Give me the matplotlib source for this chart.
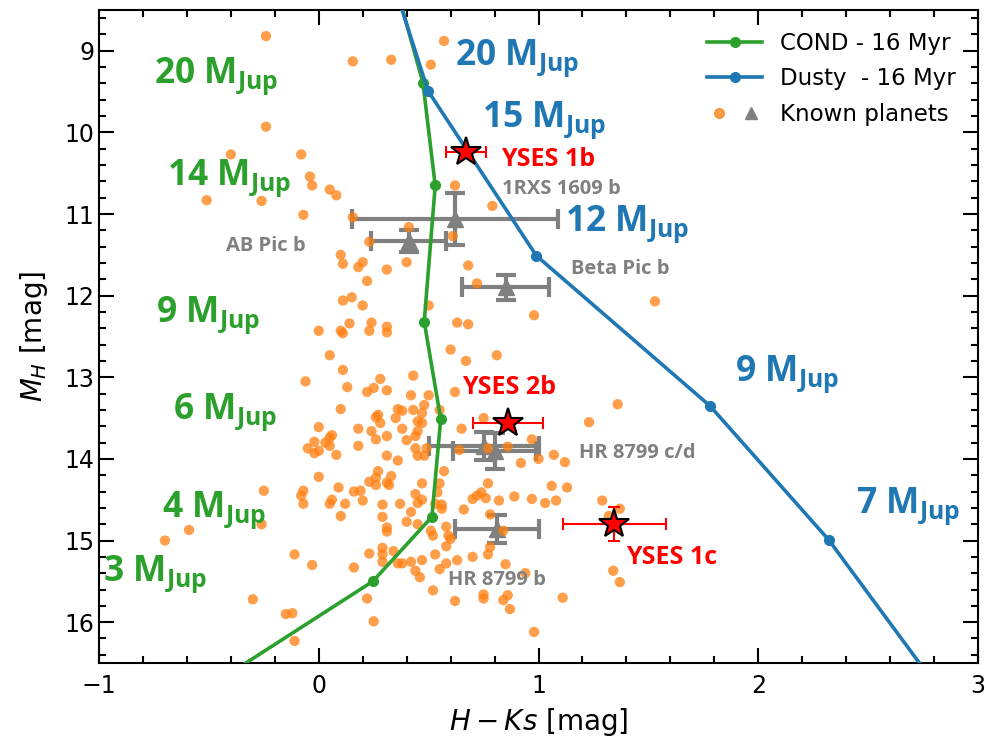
import matplotlib
matplotlib.use("Agg")
import matplotlib.pyplot as plt
from matplotlib.lines import Line2D
from matplotlib.legend_handler import HandlerTuple

plt.rcParams['font.family'] = ['DejaVu Sans']
plt.rcParams['mathtext.fontset'] = 'custom'
plt.rcParams['mathtext.rm'] = 'DejaVu Sans'
plt.rcParams['mathtext.it'] = 'DejaVu Sans:italic'
plt.rcParams['mathtext.bf'] = 'Open Sans:bold'

# field objects (H-Ks colour, absolute H magnitude)
field_hks = [-0.24, 0.57, 0.155, 0.33, 0.51, -0.24, -0.40, -0.08, -0.04, -0.03,
             0.05, 0.08, -0.51, -0.26, -0.07, 0.62, 0.79, 0.155, 0.41, 0.23,
             0.61, 0.10, 0.11, 0.18, 0.20, 0.31, 0.40, 0.68, 0.22, 0.72,
             0.11, 0.15, 0.20, 0.50, 0.98, 1.53, 0.14, 0.10, 0.11, 0.24,
             0.23, 0.31, 0.31, 0.63, 0.68, 0.00, 0.05, 0.60, 0.67, 0.81,
             0.11, -0.06, 0.28, 0.13, 0.22, 0.25, 0.31, 0.43, 0.42, 0.50,
             0.62, 1.36, 0.10, 0.27, 0.26, 0.28, 0.36, 0.38, 0.35, 0.43,
             0.48, 0.47, 0.45, 0.47, 0.55, 0.75, 1.23, 0.18, 0.06, 0.00,
             0.24, 0.38, 0.45, 0.65, 0.26, 0.31, 0.40, 0.44, -0.02, -0.05,
             -0.02, 0.00, 0.03, 0.05, 0.05, 0.08, 0.18, 0.31, 0.44, 0.45,
             0.49, 0.48, 0.64, 0.86, 0.97, 1.07, 0.77, 0.36, 1.00, 0.92,
             1.12, 0.00, -0.25, -0.08, -0.07, -0.07, 0.09, 0.06, 0.05, 0.12,
             0.16, 0.19, 0.20, 0.23, 0.26, 0.27, 0.26, 0.31, 0.32, 0.33,
             0.29, 0.37, 0.47, 0.55, 0.54, 0.44, 0.74, 0.72, 0.82, 0.89,
             0.97, 1.03, 1.06, 1.13, 0.56, 0.57, 0.10, 0.29, 0.42, 0.45,
             0.47, 0.53, 0.56, 0.66, 0.70, 0.76, 0.77, 1.08, 1.29, 1.37,
             1.32, -0.26, -0.59, -0.70, 0.31, 0.31, 0.40, 0.45, 0.58, 0.59,
             0.60, 0.51, 0.52, 0.84, 0.78, 0.58, 0.78, 0.77, 0.85, 0.23,
             0.29, 0.29, 0.34, 0.29, 0.36, 0.38, 0.42, 0.47, 0.53, 0.58,
             0.63, 0.55, 0.44, 0.46, 0.16, 0.70, 0.52, 0.62, 0.75, 0.75,
             0.84, 0.86, 0.87, 0.22, 0.25, 0.98, 0.94, 1.11, 1.34, 1.37,
             -0.11, -0.03, -0.30, -0.15, -0.12, -0.11]
field_mh = [8.82, 8.88, 9.13, 9.11, 9.17, 9.93, 10.27, 10.27, 10.54, 10.65,
            10.70, 10.77, 10.83, 10.84, 11.01, 10.65, 10.90, 11.04, 11.16, 11.34,
            11.27, 11.50, 11.61, 11.65, 11.59, 11.68, 11.59, 11.63, 11.82, 11.85,
            12.06, 12.02, 12.12, 12.12, 12.24, 12.07, 12.34, 12.43, 12.46, 12.33,
            12.43, 12.38, 12.45, 12.33, 12.35, 12.43, 12.73, 12.66, 12.80, 12.73,
            12.91, 13.05, 13.02, 13.12, 13.18, 13.13, 13.16, 12.98, 13.22, 13.22,
            13.18, 13.33, 13.39, 13.46, 13.49, 13.56, 13.39, 13.41, 13.50, 13.40,
            13.34, 13.44, 13.54, 13.56, 13.40, 13.50, 13.55, 13.63, 13.71, 13.61,
            13.66, 13.63, 13.66, 13.63, 13.76, 13.72, 13.77, 13.72, 13.79, 13.87,
            13.93, 13.90, 13.80, 13.74, 13.84, 13.95, 13.84, 13.96, 13.87, 13.96,
            13.87, 13.96, 13.89, 13.85, 13.76, 13.95, 13.87, 14.02, 14.00, 14.05,
            14.04, 14.22, 14.39, 14.45, 14.39, 14.55, 14.35, 14.50, 14.55, 14.55,
            14.40, 14.39, 14.51, 14.28, 14.23, 14.15, 14.32, 14.29, 14.32, 14.21,
            14.56, 14.55, 14.30, 14.30, 14.41, 14.43, 14.41, 14.45, 14.51, 14.46,
            14.49, 14.54, 14.33, 14.35, 14.56, 14.15, 14.70, 14.71, 14.65, 14.54,
            14.50, 14.55, 14.61, 14.62, 14.49, 14.48, 14.30, 14.51, 14.51, 14.61,
            14.70, 14.80, 14.87, 15.00, 14.84, 14.89, 14.77, 14.80, 14.83, 14.94,
            14.98, 14.88, 14.94, 14.88, 14.68, 15.07, 15.08, 15.17, 15.29, 15.16,
            15.09, 15.17, 15.13, 15.26, 15.28, 15.28, 15.26, 15.24, 15.17, 15.28,
            15.24, 15.35, 15.37, 15.45, 15.33, 15.20, 15.61, 15.74, 15.66, 15.71,
            15.73, 15.67, 15.84, 15.71, 15.99, 16.12, 15.40, 15.70, 15.37, 15.51,
            15.17, 15.30, 15.72, 15.90, 15.89, 16.23]

# evolutionary tracks at 16 Myr
cond_hks = [0.33, 0.474, 0.53, 0.48, 0.555, 0.515, 0.246, -0.62]
cond_mh = [8.0, 9.39, 10.65, 12.32, 13.51, 14.71, 15.50, 17.0]
cond_mass = ['20', '14', '9', '6', '4', '3']
cond_lab_x = [-0.75, -0.69, -0.74, -0.665, -0.715, -0.98]

dusty_hks = [0.32, 0.497, 0.99, 1.78, 2.32, 2.87]
dusty_mh = [8.0, 9.49, 11.51, 13.35, 14.99, 17.0]
dusty_mass = ['20', '15', '12', '9', '7']
dusty_lab_x = [0.62, 0.745, 1.12, 1.895, 2.445]
dusty_lab_y = [9.17, 9.93, 11.21, 13.04, 14.66]

# known directly imaged planets
kp_names = ['1RXS 1609 b', 'AB Pic b', 'Beta Pic b', 'HR 8799 c', 'HR 8799 d', 'HR 8799 b']
kp_hks = [0.62, 0.41, 0.85, 0.75, 0.80, 0.81]
kp_hks_err = [0.47, 0.17, 0.20, 0.25, 0.19, 0.19]
kp_mh = [11.06, 11.33, 11.90, 13.84, 13.90, 14.86]
kp_mh_err = [0.32, 0.14, 0.15, 0.17, 0.22, 0.17]
kp_text = ['1RXS 1609 b', 'AB Pic b', 'Beta Pic b', 'HR 8799 c/d', 'HR 8799 b']
kp_text_x = [0.835, -0.42, 1.15, 1.185, 0.59]
kp_text_y = [10.76, 11.45, 11.74, 13.99, 15.55]

# YSES companions
yses_names = ['YSES 1b', 'YSES 2b', 'YSES 1c']
yses_hks = [0.67, 0.86, 1.345]
yses_hks_err = [0.09, 0.16, 0.235]
yses_mh = [10.24, 13.56, 14.80]
yses_mh_err = [0.05, 0.05, 0.21]
yses_text_x = [0.83, 0.65, 1.40]
yses_text_y = [10.41, 13.20, 15.29]

green = '#2ca02c'
blue = '#1f77b4'
orange = '#ff7f0e'
lab_font = 'Open Sans'

fig = plt.figure(figsize=(9.86, 7.44), dpi=100)
ax = fig.add_axes([0.1004, 0.1089, 0.8915, 0.8777])

ax.errorbar(kp_hks, kp_mh, xerr=kp_hks_err, yerr=kp_mh_err, fmt='^', color='gray',
            ms=11, elinewidth=3, capsize=7, capthick=3, zorder=2)
ax.scatter(field_hks, field_mh, s=55, color=orange, alpha=0.75, edgecolors='none', zorder=3)
ax.plot(cond_hks, cond_mh, '-o', color=green, lw=2.6, ms=7, zorder=4)
ax.plot(dusty_hks, dusty_mh, '-o', color=blue, lw=2.6, ms=7, zorder=4)
ax.errorbar(yses_hks, yses_mh, xerr=yses_hks_err, yerr=yses_mh_err, fmt='none', ecolor='red',
            elinewidth=1.5, capsize=4, capthick=1.5, zorder=5)
ax.plot(yses_hks, yses_mh, '*', color='red', mec='black', mew=1.5, ms=22, ls='none', zorder=6)

for m, x, y in zip(cond_mass, cond_lab_x, cond_mh[1:-1]):
    ax.text(x, y, m + r' $\mathbf{M_{Jup}}$', color=green, fontsize=25.5,
            family=lab_font, weight='bold', va='baseline')
for m, x, y in zip(dusty_mass, dusty_lab_x, dusty_lab_y):
    ax.text(x, y, m + r' $\mathbf{M_{Jup}}$', color=blue, fontsize=25.5,
            family=lab_font, weight='bold', va='baseline')
for t, x, y in zip(kp_text, kp_text_x, kp_text_y):
    ax.text(x, y, t, color='gray', fontsize=14.5, family=lab_font, weight='bold', va='baseline')
for t, x, y in zip(yses_names, yses_text_x, yses_text_y):
    ax.text(x, y, t, color='red', fontsize=18, family=lab_font, weight='bold', va='baseline')

ax.set_xlim(-1, 3)
ax.set_ylim(16.5, 8.5)
ax.set_xticks([-1, 0, 1, 2, 3])
ax.set_yticks(range(9, 17))
ax.set_xticks([x / 5 for x in range(-5, 16)], minor=True)
ax.set_yticks([8.6 + y / 5 for y in range(40)], minor=True)
ax.tick_params(which='both', direction='in', top=True, right=True, width=1.5)
ax.tick_params(which='major', length=11, labelsize=17)
ax.tick_params(which='minor', length=5)
ax.tick_params(axis='x', which='major', pad=8)
for sp in ax.spines.values():
    sp.set_linewidth(1.5)

ax.set_xlabel(r'$H-Ks$ [mag]', fontsize=20, labelpad=6)
ax.set_ylabel(r'$M_H$ [mag]', fontsize=20, labelpad=10)

h_cond = Line2D([], [], color=green, marker='o', lw=2.6, ms=7)
h_dusty = Line2D([], [], color=blue, marker='o', lw=2.6, ms=7)
h_field = Line2D([], [], color=orange, marker='o', ls='none', ms=7, alpha=0.75)
h_known = Line2D([], [], color='gray', marker='^', ls='none', ms=9)
ax.legend([h_cond, h_dusty, (h_field, h_known)],
          ['COND - 16 Myr', 'Dusty  - 16 Myr', 'Known planets'],
          handler_map={tuple: HandlerTuple(ndivide=None)},
          loc='upper right', frameon=False, fontsize=16.5, handlelength=2.4,
          labelspacing=0.55, borderaxespad=0.55)

fig.savefig('out.png', dpi=100)
